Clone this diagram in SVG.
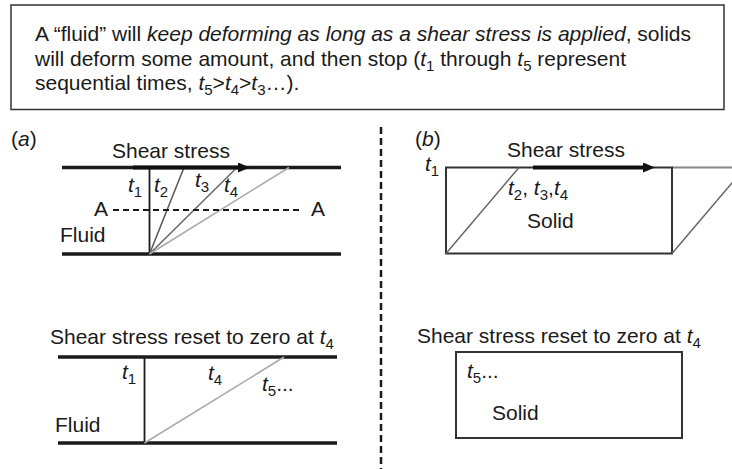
<svg xmlns="http://www.w3.org/2000/svg" width="732" height="469" viewBox="0 0 732 469">
<style>
text{font-family:"Liberation Sans",Arial,sans-serif;font-size:21px;fill:#1a1a1a}
.i{font-style:italic}
.sub{font-size:15px;font-style:normal}
.thick{stroke:#1a1a1a;stroke-width:3.5;fill:none}
.box{stroke:#333;stroke-width:1.5;fill:#fff}
</style>
<defs>
<marker id="ah" markerWidth="12" markerHeight="10" refX="4" refY="5" orient="auto" markerUnits="userSpaceOnUse">
<path d="M0,0 L12,5 L0,10 z" fill="#111"/>
</marker>
</defs>
<rect width="732" height="469" fill="#fff"/>

<g id="caption">
<rect class="box" x="11" y="5" width="713" height="104.5"/>
<text x="35" y="41">A “fluid” will <tspan class="i">keep deforming as long as a shear stress is applied</tspan>, solids</text>
<text x="35" y="66">will deform some amount, and then stop (<tspan class="i">t</tspan><tspan class="sub" dy="5">1</tspan><tspan dy="-5"> through </tspan><tspan class="i">t</tspan><tspan class="sub" dy="5">5</tspan><tspan dy="-5"> represent</tspan></text>
<text x="35" y="90">sequential times, <tspan class="i">t</tspan><tspan class="sub i" dy="5">5</tspan><tspan dy="-5">&gt;</tspan><tspan class="i">t</tspan><tspan class="sub i" dy="5">4</tspan><tspan dy="-5">&gt;</tspan><tspan class="i">t</tspan><tspan class="sub i" dy="5">3</tspan><tspan dy="-5">…).</tspan></text>
</g>

<g id="divider">
<line x1="381" y1="127" x2="381" y2="469" stroke="#1a1a1a" stroke-width="2.5" stroke-dasharray="7,4"/>
</g>

<g id="panel-a-stress">
<text x="11" y="146">(<tspan class="i">a</tspan>)</text>
<text x="112" y="158">Shear stress</text>
<line class="thick" x1="62" y1="167.5" x2="341" y2="167.5"/>
<line class="thick" x1="62" y1="254" x2="341" y2="254"/>
<line x1="149.5" y1="167.5" x2="149.5" y2="254" stroke="#1a1a1a" stroke-width="1.8"/>
<line x1="149.5" y1="254" x2="184" y2="167.5" stroke="#555" stroke-width="1.5"/>
<line x1="149.5" y1="254" x2="237" y2="167.5" stroke="#666" stroke-width="1.5"/>
<line x1="149.5" y1="254" x2="289" y2="167.5" stroke="#aaa" stroke-width="1.5"/>
<line x1="133" y1="167.5" x2="242" y2="167.5" stroke="#111" stroke-width="4" marker-end="url(#ah)"/>
<line x1="113" y1="210" x2="303" y2="210" stroke="#1a1a1a" stroke-width="2" stroke-dasharray="6,4"/>
<text x="94" y="216">A</text>
<text x="311" y="216">A</text>
<text x="60" y="242">Fluid</text>
<text class="i" x="128" y="192">t<tspan class="sub" dy="5">1</tspan></text>
<text class="i" x="154" y="192">t<tspan class="sub" dy="5">2</tspan></text>
<text class="i" x="195" y="187">t<tspan class="sub" dy="5">3</tspan></text>
<text class="i" x="224" y="192">t<tspan class="sub" dy="5">4</tspan></text>
</g>

<g id="panel-a-reset">
<text x="50" y="344">Shear stress reset to zero at <tspan class="i">t</tspan><tspan class="sub i" dy="5">4</tspan></text>
<line class="thick" x1="58" y1="357" x2="337" y2="357"/>
<line class="thick" x1="58" y1="443" x2="337" y2="443"/>
<line x1="144.5" y1="357" x2="144.5" y2="443" stroke="#1a1a1a" stroke-width="1.8"/>
<line x1="144.5" y1="443" x2="284" y2="357" stroke="#aaa" stroke-width="1.5"/>
<text class="i" x="122" y="379">t<tspan class="sub" dy="5">1</tspan></text>
<text class="i" x="208" y="380">t<tspan class="sub" dy="5">4</tspan></text>
<text class="i" x="262" y="391">t<tspan class="sub" dy="5">5</tspan><tspan dy="-5" style="font-style:normal">...</tspan></text>
<text x="55" y="432">Fluid</text>
</g>

<g id="panel-b-stress">
<text x="415" y="146">(<tspan class="i">b</tspan>)</text>
<text x="507" y="157">Shear stress</text>
<line x1="672" y1="167.5" x2="745" y2="167.5" stroke="#888" stroke-width="2"/>
<rect x="446" y="167.5" width="226" height="86" fill="none" stroke="#333" stroke-width="2"/>
<line x1="446" y1="253.5" x2="519" y2="167.5" stroke="#666" stroke-width="1.5"/>
<line x1="672" y1="253.5" x2="745" y2="167.5" stroke="#666" stroke-width="1.5"/>
<line x1="533" y1="167.5" x2="647" y2="167.5" stroke="#111" stroke-width="4" marker-end="url(#ah)"/>
<text class="i" x="425" y="171">t<tspan class="sub" dy="5">1</tspan></text>
<text class="i" x="508" y="195">t<tspan class="sub" dy="5">2</tspan><tspan dy="-5" style="font-style:normal">, </tspan>t<tspan class="sub" dy="5">3</tspan><tspan dy="-5" style="font-style:normal">,</tspan>t<tspan class="sub" dy="5">4</tspan></text>
<text x="527" y="228">Solid</text>
</g>

<g id="panel-b-reset">
<text x="417" y="343">Shear stress reset to zero at <tspan class="i">t</tspan><tspan class="sub i" dy="5">4</tspan></text>
<rect x="456" y="352" width="226" height="86" fill="none" stroke="#333" stroke-width="2"/>
<text class="i" x="467" y="378">t<tspan class="sub" dy="5">5</tspan><tspan dy="-5" style="font-style:normal">...</tspan></text>
<text x="492" y="420">Solid</text>
</g>
</svg>
